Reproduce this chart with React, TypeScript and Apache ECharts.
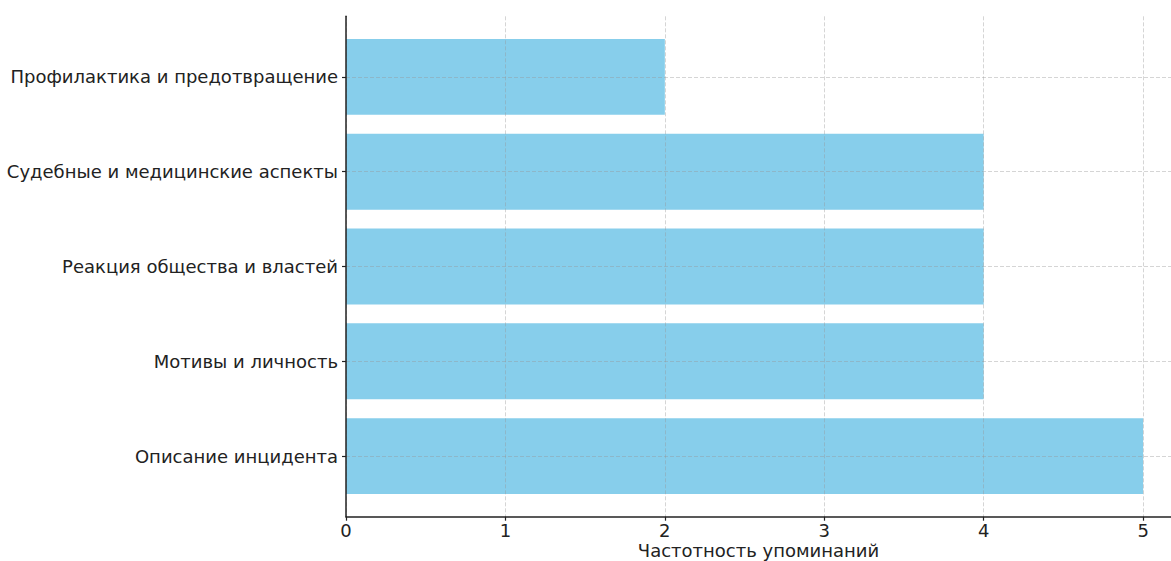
import React, { useEffect, useRef } from "react";
import * as echarts from "echarts";

const categories = [
  "Описание инцидента",
  "Мотивы и личность",
  "Реакция общества и властей",
  "Судебные и медицинские аспекты",
  "Профилактика и предотвращение",
];
const counts = [5, 4, 4, 4, 2];
const xTicks = [0, 1, 2, 3, 4, 5];
const xAxisTitle = "Частотность упоминаний";

export default function App() {
  const ref = useRef<HTMLDivElement>(null);
  useEffect(() => {
    if (!ref.current) return;
    const chart = echarts.init(ref.current, undefined, { renderer: "svg" });
    const font = "'DejaVu Sans', sans-serif";
    const gridLine = { show: true, lineStyle: { color: "rgba(150,150,150,0.4)", width: 1, type: [4, 2] } };
    const yIdx = categories.map((_, i) => i);
    chart.setOption({
      animation: false,
      backgroundColor: "#ffffff",
      grid: {
        left: 346,
        right: 0,
        top: 16.3,
        bottom: 44.3,
        containLabel: false,
        outerBoundsMode: "none",
      },
      xAxis: {
        type: "value",
        min: 0,
        max: 5.175,
        z: 3,
        name: xAxisTitle,
        nameLocation: "middle",
        nameGap: 25,
        nameMoveOverlap: false,
        nameTextStyle: { fontFamily: font, fontSize: 18, color: "#222" },
        axisLine: { show: true, onZero: false, lineStyle: { color: "#222", width: 1.5 } },
        axisTick: { show: true, customValues: xTicks, length: 4, lineStyle: { color: "#222", width: 1.2 } },
        axisLabel: { customValues: xTicks, margin: 5, fontFamily: font, fontSize: 18, color: "#222" },
        splitLine: gridLine,
      },
      yAxis: {
        type: "value",
        min: -0.64,
        max: 4.64,
        z: 3,
        axisLine: { show: true, onZero: false, lineStyle: { color: "#222", width: 1.5 } },
        axisTick: { show: true, customValues: yIdx, length: 4, lineStyle: { color: "#222", width: 1.2 } },
        axisLabel: {
          customValues: yIdx,
          margin: 8,
          fontFamily: font,
          fontSize: 18,
          color: "#222",
          formatter: (v: number) => categories[Math.round(v)] ?? "",
        },
        splitLine: gridLine,
      },
      series: [
        {
          type: "custom",
          z: 1,
          encode: { x: 0, y: 1 },
          data: counts.map((c, i) => [c, i]),
          renderItem: (params: any, api: any) => {
            const val = api.value(0);
            const idx = api.value(1);
            const start = api.coord([0, idx]);
            const end = api.coord([val, idx]);
            const h = api.size([0, 0.8])[1];
            return {
              type: "rect",
              shape: { x: start[0], y: start[1] - h / 2, width: end[0] - start[0], height: h },
              style: { fill: "#87CEEB" },
            };
          },
        },
      ],
    });
    return () => chart.dispose();
  }, []);
  return (
    <div
      ref={ref}
      style={{ position: "fixed", left: 0, top: 0, width: 1171, height: 561, background: "#fff" }}
    />
  );
}
